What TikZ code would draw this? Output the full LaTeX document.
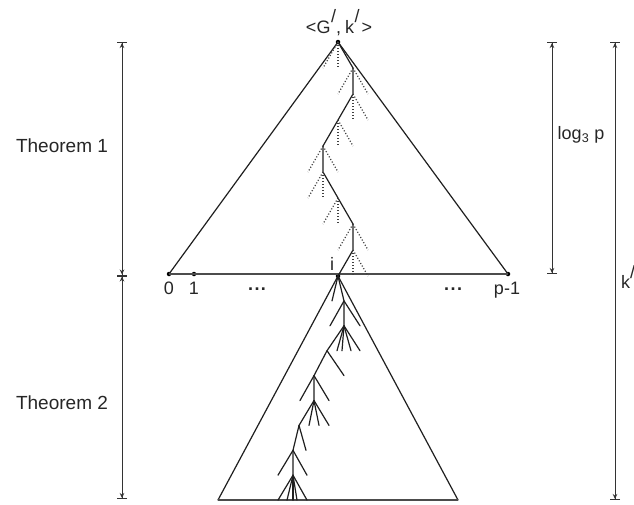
\documentclass[tikz,border=0pt]{standalone}
\usepackage{fontspec}
\setmainfont{Liberation Sans}
\usetikzlibrary{arrows.meta}
\begin{document}
\begin{tikzpicture}[x=1pt,y=-1pt,
  edge/.style={line width=1.2pt, draw=black!88, line cap=round},
  dotedge/.style={line width=1.2pt, draw=black!75, dash pattern=on 1.1pt off 1.9pt},
  baseline/.style={line width=1.6pt, draw=black!70},
  dimline/.style={line width=1pt, draw=black!80,
    {Bar[width=10pt,line width=1pt]Stealth[length=5pt,width=4.5pt,sep=0pt]}-{Stealth[length=5pt,width=4.5pt,sep=0pt]Bar[width=10pt,line width=1pt]}},
  dotnode/.style={circle, fill=black, inner sep=0pt, minimum size=4.5pt},
  lab/.style={font=\fontsize{18}{20}\selectfont, text=black!85, inner sep=0pt},
  biglab/.style={font=\fontsize{19}{21}\selectfont, text=black!85, inner sep=0pt}
]
\useasboundingbox (0,0) rectangle (634,504);
\clip (0,0) rectangle (634,504);

% ---------- top triangle ----------
\node[dotnode] (apex) at (338,42) {};
\node[dotnode] (n0) at (169,274) {};
\node[dotnode] (n1) at (194,274) {};
\node[dotnode] (ni) at (338,276) {};
\node[dotnode] (np) at (508,274) {};
\draw[edge] (n0.center) -- (apex.center) -- (np.center);
\draw[baseline] (n0.center) -- (np.center);

% top tree (path solid, other branches dotted)
\foreach \k/\x in {0/338,1/353,2/353,3/338,4/323,5/323,6/338,7/353,8/353,9/338}
  \coordinate (t\k) at (\x,{42+26*\k});
\draw[edge] (t0) -- (t1) -- (t2) -- (t3) -- (t4) -- (t5) -- (t6) -- (t7) -- (t8) -- (t9);
\foreach \k/\a/\b in {0/-15/0,1/-15/15,2/0/15,3/0/15,4/-15/15,5/-15/0,6/-15/0,7/-15/15,8/0/15}{
  \path (t\k) ++(\a,26) coordinate (ta\k);
  \path (t\k) ++(\b,26) coordinate (tb\k);
  \draw[dotedge] (t\k) -- (ta\k);
  \draw[dotedge] (t\k) -- (tb\k);
}

% ---------- bottom triangle ----------
\coordinate (bl) at (218,500);
\coordinate (br) at (458,500);
\draw[edge] (bl) -- (ni.center) -- (br);
\draw[baseline] (bl) -- (br);

% bottom tree
\foreach \k/\x in {0/338,1/344,2/344,3/327,4/314,5/314,6/299,7/293,8/293}
  \coordinate (b\k) at (\x,{276+24.9*\k});
\draw[edge] (b0) -- (b1) -- (b2) -- (b3) -- (b4) -- (b5) -- (b6) -- (b7) -- (b8);
\foreach \k/\xs in {0/{332},1/{330,360},2/{337,342,351,360},3/{344},4/{300,329},5/{309,319,329},6/{306},7/{278,307},8/{278,287,293,297,307}}{
  \foreach \x [count=\j] in \xs {
    \coordinate (bl\k-\j) at (\x,{276+24.9*(\k+1)});
    \draw[edge] (b\k) -- (bl\k-\j);
  }
}

% ---------- labels ----------
\node[lab] (g) at (339,23) {<G\kern0.5pt\raisebox{0.6em}{/},\kern4pt k\kern0.5pt\raisebox{0.6em}{/}\kern2pt>};
\node[lab, anchor=north] (l0) at (169,282) {0};
\node[lab, anchor=north] (l1) at (194,282) {1};
\node[lab] (dl) at (257,289) {\bfseries .\kern1.5pt.\kern1.5pt.};
\node[lab] (dr) at (453,289) {\bfseries .\kern1.5pt.\kern1.5pt.};
\node[lab] (li) at (332,264) {i};
\node[lab, anchor=north] (lp) at (507,282) {p-1};

% ---------- dimension arrows ----------
\coordinate (L1) at (122,42);
\coordinate (L2) at (122,275.5);
\coordinate (L3) at (122,499);
\draw[dimline] (L1) -- (L2);
\draw[dimline] (L2) -- (L3);
\node[biglab] (th1) at (62,146) {Theorem 1};
\node[biglab] (th2) at (62,403) {Theorem 2};

\coordinate (R1) at (552,42);
\coordinate (R2) at (552,274);
\draw[dimline] (R1) -- (R2);
\node[lab] (lg) at (581,135) {log\textsubscript{3} p};

\coordinate (K1) at (615,42);
\coordinate (K2) at (615,500);
\draw[dimline] (K1) -- (K2);
\node[lab, anchor=west] (lk) at (621,277) {k\raisebox{0.6em}{/}};
\end{tikzpicture}
\end{document}
